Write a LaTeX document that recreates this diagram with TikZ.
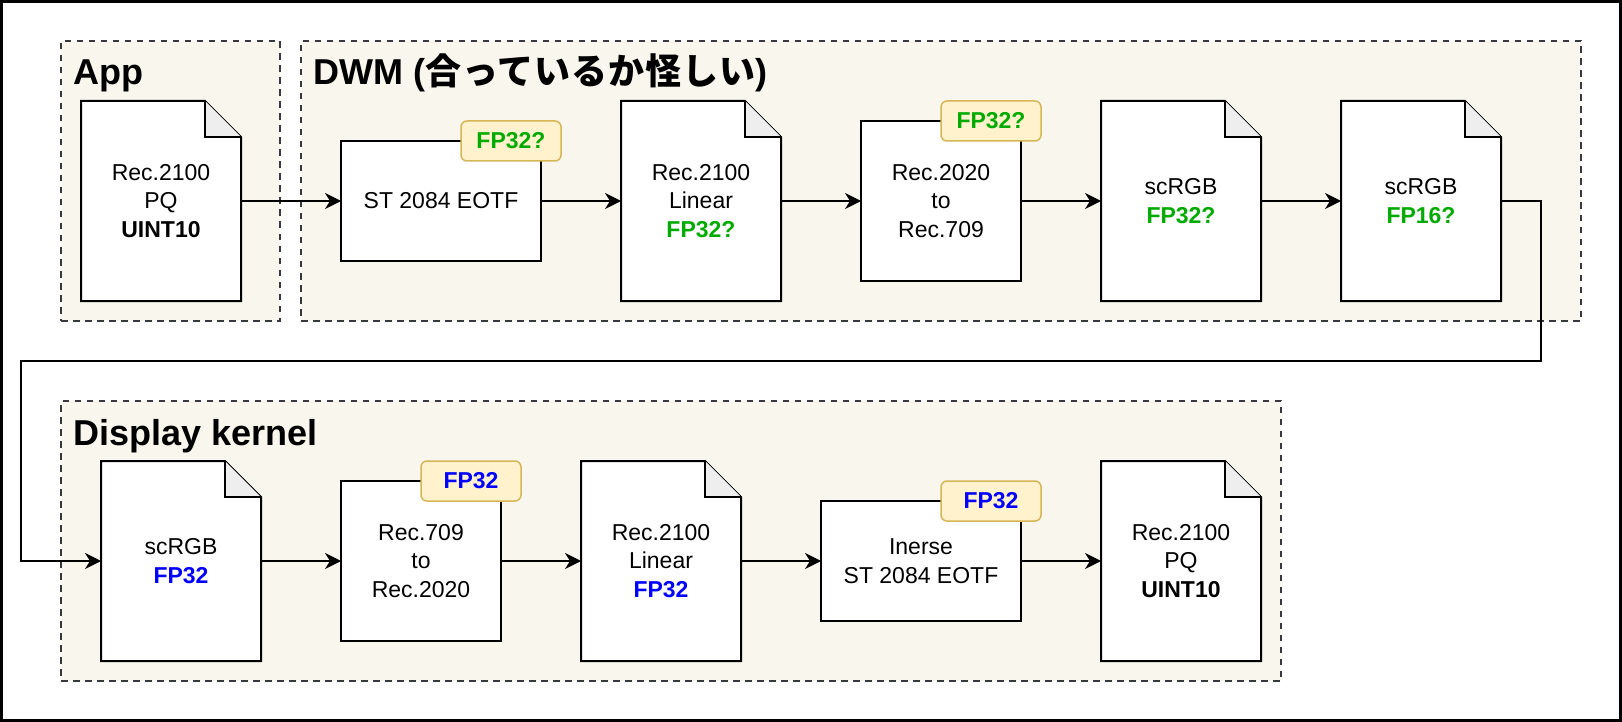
\documentclass[tikz,border=0pt]{standalone}
\usepackage{fontspec}
\setmainfont{Liberation Sans}
\newfontfamily\cjk{Noto Sans CJK JP}
\usepackage{xcolor}
\usepackage{tikz}
\usetikzlibrary{arrows.meta}
\pgfdeclarelayer{background}
\pgfsetlayers{background,main}
\definecolor{fpgreen}{RGB}{0,170,0}
\definecolor{fpblue}{RGB}{0,0,255}
\definecolor{groupfill}{RGB}{249,247,237}
\definecolor{groupline}{RGB}{54,57,61}
\definecolor{badgefill}{RGB}{255,242,204}
\definecolor{badgeline}{RGB}{214,182,86}
\definecolor{foldfill}{RGB}{238,238,238}
% page outline with folded corner, behind the text of a document node
\newcommand{\docfold}[1]{
\begin{pgfonlayer}{background}
\filldraw[DocLine, fill=white] (#1.north west) -- ([xshift=-36pt]#1.north east) -- ([yshift=-36pt]#1.north east) -- (#1.south east) -- (#1.south west) -- cycle;
\filldraw[DocLine, fill=foldfill] ([xshift=-36pt]#1.north east) -- ([xshift=-36pt,yshift=-36pt]#1.north east) -- ([yshift=-36pt]#1.north east);
\end{pgfonlayer}
}

\begin{document}
\begin{tikzpicture}[
x=1pt, y=-1pt,
Group/.style={draw=groupline, fill=groupfill, line width=1.5pt, dash pattern=on 6.5pt off 5.5pt, inner sep=0pt, outer sep=0pt},
Title/.style={font=\fontsize{36}{40}\selectfont\bfseries, inner sep=0pt, anchor=base west},
Doc/.style={inner sep=0pt, outer sep=0pt, minimum width=160pt, minimum height=200pt, align=center, font=\fontsize{23}{28.5}\selectfont},
DocLine/.style={black, line width=2pt, line join=miter},
Step/.style={draw=black, fill=white, line width=2pt, inner sep=0pt, outer sep=0pt, align=center, font=\fontsize{23}{28.5}\selectfont},
Badge/.style={draw=badgeline, fill=badgefill, line width=1.5pt, rounded corners=6pt, minimum width=100pt, minimum height=40pt, inner sep=0pt, outer sep=0pt, font=\fontsize{23}{28}\selectfont\bfseries},
Flow/.style={line width=2pt, -{Stealth[length=16pt, width=16pt, inset=5pt]}}
]
\useasboundingbox (0,0) rectangle (1622,722);
\draw[line width=3pt] (1.5,1.5) rectangle (1620.5,720.5);

% groups
\begin{pgfonlayer}{background}
\node[Group, minimum width=219pt, minimum height=280pt] (app) at (170.5,181) {};
\node[Group, minimum width=1280pt, minimum height=280pt] (dwm) at (941,181) {};
\node[Group, minimum width=1220pt, minimum height=280pt] (kernel) at (671,541) {};
\end{pgfonlayer}

\node[Title] (tapp) at ([xshift=12pt,yshift=-44pt]app.north west) {App};
\node[Title] (tdwm) at ([xshift=12pt,yshift=-44pt]dwm.north west) {DWM ({\cjk\addfontfeature{LetterSpace=3}合っているか怪しい})};
\node[Title] (tkernel) at ([xshift=12pt,yshift=-44pt]kernel.north west) {Display kernel};

% first row
\node[Doc] (src) at (161,201) {Rec.2100\\PQ\\\textbf{UINT10}};
\docfold{src}
\node[Step, minimum width=200pt, minimum height=120pt] (eotf) at (441,201) {ST 2084 EOTF};
\node[Badge, text=fpgreen] (beotf) at ([xshift=-30pt]eotf.north east) {FP32?};
\node[Doc] (linA) at (701,201) {Rec.2100\\Linear\\\textbf{\color{fpgreen}FP32?}};
\docfold{linA}
\node[Step, minimum width=160pt, minimum height=160pt] (toA) at (941,201) {Rec.2020\\to\\Rec.709};
\node[Badge, text=fpgreen] (btoA) at ([xshift=-30pt]toA.north east) {FP32?};
\node[Doc] (scA) at (1181,201) {scRGB\\\textbf{\color{fpgreen}FP32?}};
\docfold{scA}
\node[Doc] (scB) at (1421,201) {scRGB\\\textbf{\color{fpgreen}FP16?}};
\docfold{scB}

% second row
\node[Doc] (scC) at (181,561) {scRGB\\\textbf{\color{fpblue}FP32}};
\docfold{scC}
\node[Step, minimum width=160pt, minimum height=160pt] (toB) at (421,561) {Rec.709\\to\\Rec.2020};
\node[Badge, text=fpblue] (btoB) at ([xshift=-30pt]toB.north east) {FP32};
\node[Doc] (linB) at (661,561) {Rec.2100\\Linear\\\textbf{\color{fpblue}FP32}};
\docfold{linB}
\node[Step, minimum width=200pt, minimum height=120pt] (ieotf) at (921,561) {Inerse\\ST 2084 EOTF};
\node[Badge, text=fpblue] (bieotf) at ([xshift=-30pt]ieotf.north east) {FP32};
\node[Doc] (out) at (1181,561) {Rec.2100\\PQ\\\textbf{UINT10}};
\docfold{out}

\draw[Flow] (src) -- (eotf);
\draw[Flow] (eotf) -- (linA);
\draw[Flow] (linA) -- (toA);
\draw[Flow] (toA) -- (scA);
\draw[Flow] (scA) -- (scB);

\coordinate (turnR) at (1541,361);
\coordinate (turnL) at (20.5,361);
\draw[Flow] (scB.east) -| (turnR) -- (turnL) |- (scC.west);

\draw[Flow] (scC) -- (toB);
\draw[Flow] (toB) -- (linB);
\draw[Flow] (linB) -- (ieotf);
\draw[Flow] (ieotf) -- (out);

\end{tikzpicture}
\end{document}
